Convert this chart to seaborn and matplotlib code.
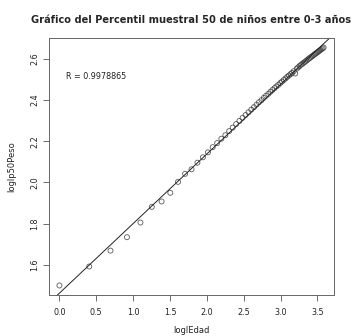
import numpy as np
import pandas as pd
import matplotlib
matplotlib.use("Agg")
import matplotlib.pyplot as plt
import seaborn as sns

# log of age in months (1 to 36, half-month steps)
log_edad = [0.000, 0.405, 0.693, 0.916, 1.099, 1.253, 1.386, 1.504, 1.609,
            1.705, 1.792, 1.872, 1.946, 2.015, 2.079, 2.140, 2.197, 2.251,
            2.303, 2.351, 2.398, 2.442, 2.485, 2.526, 2.565, 2.603, 2.639,
            2.674, 2.708, 2.741, 2.773, 2.803, 2.833, 2.862, 2.890, 2.918,
            2.944, 2.970, 2.996, 3.020, 3.045, 3.068, 3.091, 3.114, 3.135,
            3.157, 3.178, 3.199, 3.219, 3.239, 3.258, 3.277, 3.296, 3.314,
            3.332, 3.350, 3.367, 3.384, 3.401, 3.418, 3.434, 3.450, 3.466,
            3.481, 3.497, 3.512, 3.526, 3.541, 3.555, 3.570, 3.584]

# log of weight percentile 50
log_p50_peso = [1.501, 1.593, 1.670, 1.735, 1.806, 1.882, 1.908, 1.950, 2.003,
                2.042, 2.064, 2.096, 2.122, 2.146, 2.171, 2.191, 2.212, 2.229,
                2.249, 2.266, 2.283, 2.298, 2.313, 2.327, 2.340, 2.353, 2.365,
                2.377, 2.389, 2.399, 2.410, 2.420, 2.429, 2.439, 2.448, 2.457,
                2.465, 2.473, 2.482, 2.489, 2.497, 2.504, 2.512, 2.518, 2.525,
                2.531, 2.539, 2.528, 2.552, 2.558, 2.564, 2.570, 2.575, 2.580,
                2.585, 2.590, 2.595, 2.600, 2.604, 2.609, 2.613, 2.618, 2.622,
                2.626, 2.630, 2.634, 2.638, 2.642, 2.646, 2.650, 2.654]

r_text = "R = 0.9978865"
x_ticks = [0.0, 0.5, 1.0, 1.5, 2.0, 2.5, 3.0, 3.5]
y_ticks = [1.6, 1.8, 2.0, 2.2, 2.4, 2.6]

df = pd.DataFrame({"loglEdad": log_edad, "loglp50Peso": log_p50_peso})

sns.set_style("ticks")
plt.rcParams["font.family"] = ["DejaVu Sans"]

fig = plt.figure(figsize=(3.54, 3.36), dpi=100)
ax = fig.add_axes([0.138, 0.122, 0.806, 0.765])

# R-like limits: 4% padding around the data range
def padded(vals):
    lo, hi = min(vals), max(vals)
    r = hi - lo
    return lo - 0.04 * r, hi + 0.04 * r

xlim = padded(log_edad)
ylim = padded(log_p50_peso)
ax.set_xlim(xlim)
ax.set_ylim(ylim)

sns.regplot(data=df, x="loglEdad", y="loglp50Peso", ax=ax, ci=None,
            truncate=False,
            scatter_kws=dict(s=13, facecolors="none", edgecolors="#333333",
                             linewidths=0.6),
            line_kws=dict(color="#222222", lw=0.7))

ax.set_xlim(xlim)
ax.set_ylim(ylim)

ax.text(0.5, 2.512, r_text, ha="center", va="center", fontsize=5.8,
        color="#222222")

ax.set_xticks(x_ticks)
ax.set_yticks(y_ticks)
ax.set_xticklabels([f"{v:.1f}" for v in x_ticks], fontsize=5.8, color="#222222")
ax.set_yticklabels([f"{v:.1f}" for v in y_ticks], fontsize=5.8, color="#222222",
                   rotation=90, va="center")
ax.tick_params(length=4, width=0.6, color="#555555")
ax.tick_params(axis="x", pad=5)
ax.tick_params(axis="y", pad=3)
for s in ax.spines.values():
    s.set_visible(True)
    s.set_linewidth(0.7)
    s.set_color("#666666")

ax.set_xlabel("loglEdad", fontsize=6, color="#222222", labelpad=7)
ax.set_ylabel("loglp50Peso", fontsize=6, color="#222222", labelpad=10)
ax.set_title("Gráfico del Percentil muestral 50 de niños entre 0-3 años",
             fontsize=7.1, fontweight="bold", pad=11)

fig.savefig("out.png", dpi=100)
